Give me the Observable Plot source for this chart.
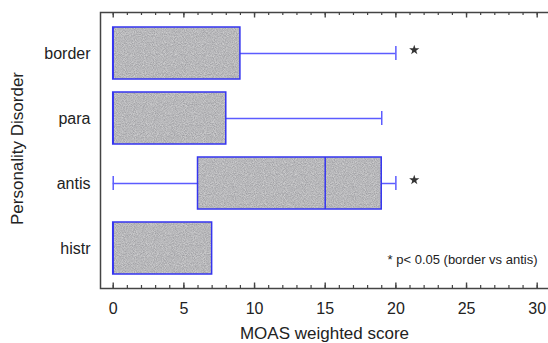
<!DOCTYPE html>
<html>
<head>
<meta charset="utf-8">
<script src="https://cdn.jsdelivr.net/npm/d3@7"></script>
<script src="https://cdn.jsdelivr.net/npm/@observablehq/plot@0.6"></script>
<style>
  html, body { margin: 0; padding: 0; background: #fff; }
  body { width: 548px; height: 343px; overflow: hidden; }
</style>
</head>
<body>
<div id="chart"></div>
<script>
// Data
const categories = ["border", "para", "antis", "histr"];
const mins    = [0, 0, 0, 0];
const q1s     = [0, 0, 6, 0];
const medians = [0, 0, 15, 0];
const q3s     = [9, 8, 19, 7];
const maxs    = [20, 19, 20, 7];
const starred = ["border", "antis"];
const starValue = 21.3;
const majorTicks = [0, 5, 10, 15, 20, 25, 30];
const minorTicks = d3.range(0, 31, 1);
const xLabel = "MOAS weighted score";
const yLabel = "Personality Disorder";
const note = "* p< 0.05 (border vs antis)";

const rows = categories.map((c, i) => ({
  cat: c, min: mins[i], q1: q1s[i], med: medians[i], q3: q3s[i], max: maxs[i]
}));

const W = 548, H = 343, mTop = 12, mBottom = 55, mLeft = 100, mRight = 0;
const frameH = H - mTop - mBottom;
const blue = "#3535f0";
const whiskerBlue = "#5c5cff";
const font = "'Liberation Sans', Arial, sans-serif";

const plot = Plot.plot({
  width: W,
  height: H,
  marginTop: mTop,
  marginBottom: mBottom,
  marginLeft: mLeft,
  marginRight: mRight,
  style: { fontFamily: font, background: "#fff", color: "#222" },
  x: { domain: [-0.9, 30.8], axis: null },
  y: { domain: categories, paddingInner: 0.2, paddingOuter: 0.215, axis: null },
  marks: [
    // whiskers
    Plot.ruleY(rows.filter(d => d.max > d.q3), { y: "cat", x1: "q3", x2: "max", stroke: whiskerBlue, strokeWidth: 1.5 }),
    Plot.ruleY(rows.filter(d => d.min < d.q1), { y: "cat", x1: "min", x2: "q1", stroke: whiskerBlue, strokeWidth: 1.5 }),
    Plot.tickX(rows.filter(d => d.max > d.q3), { x: "max", y: "cat", stroke: whiskerBlue, strokeWidth: 1.5, insetTop: 19, insetBottom: 19 }),
    Plot.tickX(rows.filter(d => d.min < d.q1), { x: "min", y: "cat", stroke: whiskerBlue, strokeWidth: 1.5, insetTop: 19, insetBottom: 19 }),
    // boxes
    Plot.barX(rows, { y: "cat", x1: "q1", x2: "q3", fill: "url(#tex)", stroke: blue, strokeWidth: 1.5 }),
    Plot.tickX(rows, { x: "med", y: "cat", stroke: blue, strokeWidth: 1.5 }),
    // significance stars
    Plot.dot(starred, { x: () => starValue, y: d => d, symbol: "star", r: 3.2, fill: "#333", stroke: "none", dy: -3.5 }),
    // frame (right side pushed outside the picture)
    Plot.frame({ stroke: "#444", strokeWidth: 1.5, insetRight: -6 }),
    // inward ticks, bottom and top
    Plot.ruleX(minorTicks, { x: d => d, insetTop: frameH - 3, stroke: "#444", strokeWidth: 1.2 }),
    Plot.ruleX(majorTicks, { x: d => d, insetTop: frameH - 5.5, stroke: "#444", strokeWidth: 1.4 }),
    Plot.ruleX(minorTicks, { x: d => d, insetBottom: frameH - 3, stroke: "#444", strokeWidth: 1.2 }),
    Plot.ruleX(majorTicks, { x: d => d, insetBottom: frameH - 5.5, stroke: "#444", strokeWidth: 1.4 }),
    // axes labels
    Plot.axisX({ ticks: majorTicks, tickSize: 0, tickPadding: 14, fontSize: 16, label: null, tickFormat: d => String(d) }),
    Plot.axisY({ tickSize: 0, tickPadding: 10, fontSize: 16, label: null }),
    Plot.text([xLabel], { frameAnchor: "bottom", lineAnchor: "middle", dy: 45, fontSize: 17, fill: "#222", text: d => d }),
    Plot.text([yLabel], { frameAnchor: "left", textAnchor: "middle", lineAnchor: "middle", dx: -82.5, dy: -2, rotate: -90, fontSize: 17, fill: "#222", text: d => d }),
    Plot.text([note], { frameAnchor: "bottom-right", lineAnchor: "middle", dx: -11, dy: -29, fontSize: 13, fill: "#222", textAnchor: "end", text: d => d })
  ]
});

// fine stippled grey texture for the boxes
d3.select(plot).insert("defs", ":first-child").html(`
  <filter id="grain" x="0" y="0" width="1" height="1" color-interpolation-filters="sRGB">
    <feTurbulence type="fractalNoise" baseFrequency="1.1" numOctaves="1" seed="7"/>
    <feColorMatrix type="matrix" values="0.32 0 0 0 0.56  0.32 0 0 0 0.56  0.3 0 0 0 0.58  0 0 0 0 1"/>
  </filter>
  <pattern id="tex" patternUnits="userSpaceOnUse" x="0" y="0" width="120" height="120">
    <rect width="120" height="120" fill="#b2b2b4" filter="url(#grain)"/>
  </pattern>`);

document.getElementById("chart").appendChild(plot);
</script>
</body>
</html>
